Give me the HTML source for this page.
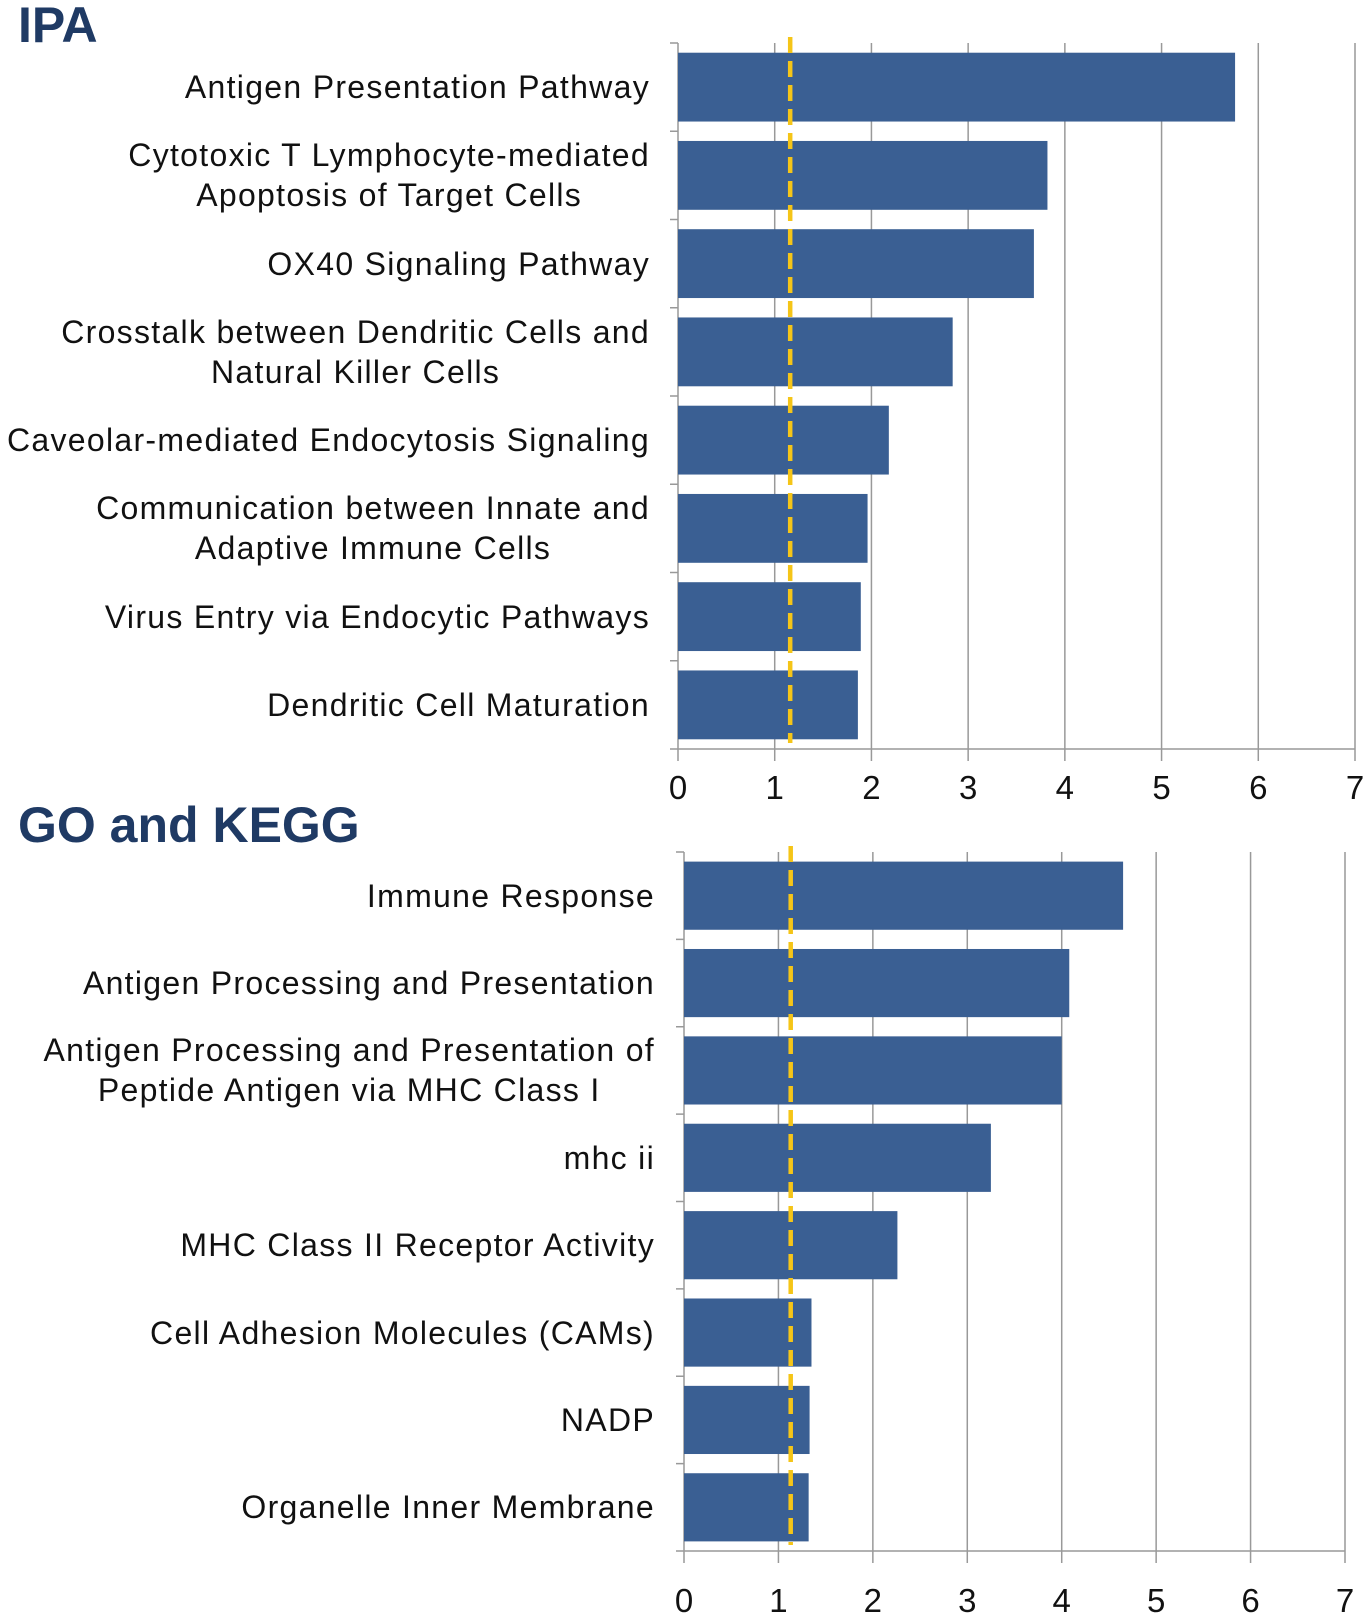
<!DOCTYPE html>
<html><head><meta charset="utf-8"><style>
body{margin:0;background:#fff;width:1365px;height:1613px;overflow:hidden;font-family:"Liberation Sans",sans-serif;}
#root{position:relative;width:1365px;height:1613px;}
.lbl{position:absolute;text-align:center;font-size:32px;letter-spacing:1.3px;line-height:40px;color:#111;white-space:nowrap;}
.title{position:absolute;font-weight:bold;color:#1f3a64;font-size:50px;line-height:56px;}
svg{position:absolute;left:0;top:0;}
</style></head><body>
<div id="root">
<svg id="svg" width="1365" height="1613"></svg>
<div class="title" style="left:18px;top:-3px;">IPA</div>
<div class="title" style="left:18px;top:797px;">GO and KEGG</div>
</div>
<script>
const ipaCategories=[["Antigen Presentation Pathway"],["Cytotoxic T Lymphocyte-mediated","Apoptosis of Target Cells"],["OX40 Signaling Pathway"],["Crosstalk between Dendritic Cells and","Natural Killer Cells"],["Caveolar-mediated Endocytosis Signaling"],["Communication between Innate and","Adaptive Immune Cells"],["Virus Entry via Endocytic Pathways"],["Dendritic Cell Maturation"]];
const ipaValues=[5.76,3.82,3.68,2.84,2.18,1.96,1.89,1.86];
const ipaThreshold=1.16;
const goCategories=[["Immune Response"],["Antigen Processing and Presentation"],["Antigen Processing and Presentation of","Peptide Antigen via MHC Class I"],["mhc ii"],["MHC Class II Receptor Activity"],["Cell Adhesion Molecules (CAMs)"],["NADP"],["Organelle Inner Membrane"]];
const goValues=[4.65,4.08,4.0,3.25,2.26,1.35,1.33,1.32];
const goThreshold=1.13;
const tickLabels=["0","1","2","3","4","5","6","7"];
const NS="http://www.w3.org/2000/svg";
const svg=document.getElementById('svg');
const root=document.getElementById('root');
function mk(tag,attrs){const e=document.createElementNS(NS,tag);for(const k in attrs)e.setAttribute(k,attrs[k]);svg.appendChild(e);return e;}
function chart(name,cats,vals,thr,x0,x7,top,bottom,labelRight,tickOff){
  const sx=v=>x0+(x7-x0)*v/7;
  const band=(bottom-top)/cats.length;
  for(let i=1;i<=7;i++){const g=mk('line',{x1:sx(i),x2:sx(i),y1:top,y2:bottom,stroke:'#999','stroke-width':1.5});
    }
  for(let i=0;i<=7;i++){const g=mk('line',{x1:sx(i),x2:sx(i),y1:bottom,y2:bottom+12,stroke:'#999','stroke-width':1.5});
    }
  const ax=mk('line',{x1:x0,x2:x0,y1:top,y2:bottom,stroke:'#999','stroke-width':1.5});
  
  const bx=mk('line',{x1:x0,x2:x7,y1:bottom,y2:bottom,stroke:'#999','stroke-width':1.5});
  
  for(let i=0;i<=cats.length;i++){const t=mk('line',{x1:x0-8,x2:x0,y1:top+i*band,y2:top+i*band,stroke:'#999','stroke-width':1.5});
    }
  tickLabels.forEach((t,i)=>{const e=mk('text',{x:sx(i),y:bottom+tickOff,'text-anchor':'middle','font-size':33,fill:'#111','font-family':'Liberation Sans, sans-serif'});e.textContent=t;
    });
  vals.forEach((v,i)=>{const bh=band*0.78;const y=top+i*band+(band-bh)/2;
    const r=mk('rect',{x:x0,y:y,width:sx(v)-x0,height:bh,fill:'#3a5f93'});
    
    const d=document.createElement('div');d.className='lbl';
    
    d.innerHTML=cats[i].join('<br>');
    const cy=top+i*band+band/2;
    d.style.right=(1365-labelRight)+'px';d.style.top=(cy-cats[i].length*40/2)+'px';
    root.appendChild(d);});
  const th=mk('line',{x1:sx(thr),x2:sx(thr),y1:top-6,y2:bottom-6,stroke:'#f5c518','stroke-width':4.5,'stroke-dasharray':'16,8'});
  
}
chart('ipa',ipaCategories,ipaValues,ipaThreshold,678,1355,43,749,650,50);
chart('go',goCategories,goValues,goThreshold,684,1345,852,1551,655,61);
</script>
</body></html>
